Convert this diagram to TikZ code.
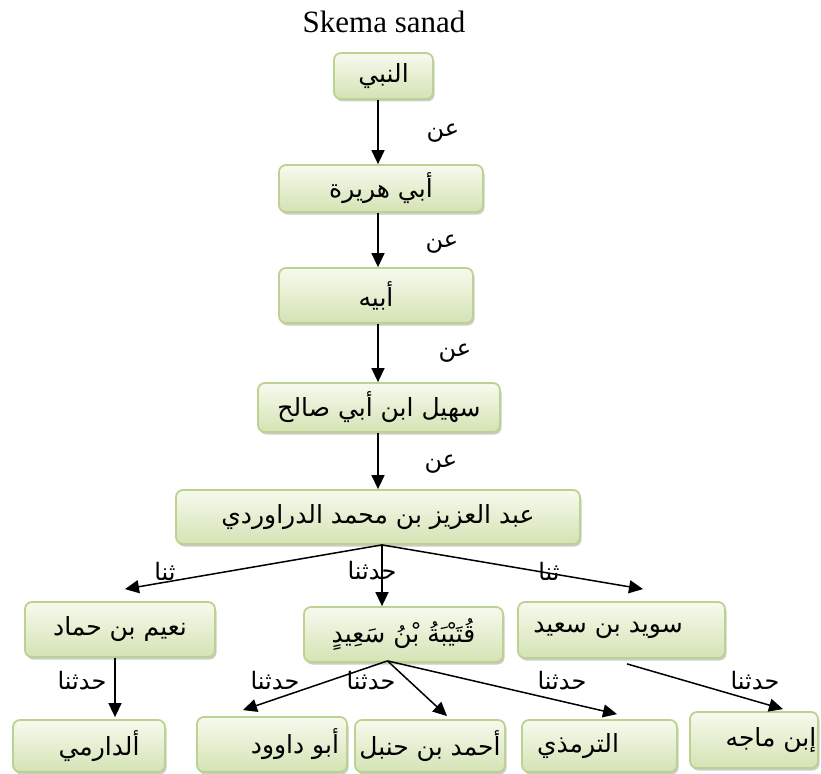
\documentclass[tikz,border=0pt]{standalone}
\usepackage{fontspec}
\setmainfont{Liberation Serif}
\newfontfamily\arabicfont[Script=Arabic]{DejaVu Sans}
\TeXXeTstate=1
\usetikzlibrary{arrows.meta,shadows}
\definecolor{boxline}{RGB}{188,210,145}
\definecolor{boxtop}{RGB}{247,250,238}
\definecolor{boxbottom}{RGB}{212,227,180}
\tikzset{
  isnad/.style={draw=boxline, line width=1.8pt, rounded corners=7pt,
    top color=boxtop, bottom color=boxbottom,
    drop shadow={shadow xshift=1.5pt, shadow yshift=-2.5pt, fill=black!40},
    inner sep=0pt, font=\arabicfont\fontsize{25}{30}\selectfont},
  tag/.style={inner sep=0pt, font=\arabicfont\fontsize{24}{28}\selectfont},
  link/.style={line width=1.5pt, -{Triangle[length=14pt,width=13pt]}},
}
\begin{document}
\begin{tikzpicture}[x=1pt,y=-1pt]
\useasboundingbox (0,0) rectangle (821,773);

% title
\node[font=\fontsize{31}{36}\selectfont, inner sep=0pt] (title) at (384,22) {Skema sanad};

% chain of narrators
\node[isnad, minimum width=99pt, minimum height=46pt] (nabi) at (383.5,76) {\beginR النبي\endR};
\node[isnad, minimum width=204pt, minimum height=47pt] (hurayra) at (381,188.5) {\beginR أبي هريرة\endR};
\node[isnad, minimum width=194pt, minimum height=55pt] (abihi) at (376,295.5) {\beginR أبيه\endR};
\node[isnad, minimum width=242pt, minimum height=49pt] (suhail) at (379,407.5) {\beginR سهيل ابن أبي صالح\endR};
\node[isnad, minimum width=404pt, minimum height=54pt] (aziz) at (378,517) {\beginR عبد العزيز بن محمد الدراوردي\endR};

% second generation (padding on one side sets a name off-centre)
\node[isnad, minimum width=190pt, minimum height=55pt] (nuaim) at (120,629.5) {\beginR نعيم بن حماد\endR};
\node[isnad, minimum width=199pt, minimum height=55pt] (qutaiba) at (403.5,634.5) {\beginR قُتَيْبَةُ بْنُ سَعِيدٍ\endR};
\node[isnad, minimum width=207pt, minimum height=56pt] (suwaid) at (621.5,630) {\beginR سويد بن سعيد\endR\hspace*{27pt}};

% collectors
\node[isnad, minimum width=152pt, minimum height=52pt] (darimi) at (89,746) {\hspace*{20pt}\beginR ألدارمي\endR};
\node[isnad, minimum width=150pt, minimum height=55pt] (dawud) at (272,744.5) {\hspace*{46pt}\beginR أبو داوود\endR};
\node[isnad, minimum width=150pt, minimum height=52pt] (ahmad) at (430,746) {\beginR أحمد بن حنبل\endR};
\node[isnad, minimum width=155pt, minimum height=52pt] (tirmidhi) at (599.5,746) {\beginR الترمذي\endR\hspace*{43pt}};
\node[isnad, minimum width=128pt, minimum height=56pt] (majah) at (754,740) {\hspace*{34pt}\beginR إبن ماجه\endR};

% transmission terms
\node[tag] (l1) at (443,133) {\beginR عن\endR};
\node[tag] (l2) at (442,244) {\beginR عن\endR};
\node[tag] (l3) at (455,353) {\beginR عن\endR};
\node[tag] (l4) at (441,464) {\beginR عن\endR};
\node[tag] (l5) at (165,571) {\beginR ثنا\endR};
\node[tag] (l6) at (372,571) {\beginR حدثنا\endR};
\node[tag] (l7) at (549,571) {\beginR ثنا\endR};
\node[tag] (l8) at (82,681) {\beginR حدثنا\endR};
\node[tag] (l9) at (275,681) {\beginR حدثنا\endR};
\node[tag] (l10) at (371,681) {\beginR حدثنا\endR};
\node[tag] (l11) at (562,681) {\beginR حدثنا\endR};
\node[tag] (l12) at (755,681) {\beginR حدثنا\endR};

% vertical chain
\draw[link] (nabi.south -| aziz.center) -- (hurayra.north -| aziz.center);
\draw[link] (hurayra.south -| aziz.center) -- (abihi.north -| aziz.center);
\draw[link] (abihi.south -| aziz.center) -- (suhail.north -| aziz.center);
\draw[link] (suhail.south -| aziz.center) -- (aziz.north);

% branches from al-Darawardi
\coordinate (fan1) at ([xshift=4pt]aziz.south);
\draw[link] (fan1) -- ([xshift=5pt,yshift=12pt]nuaim.north);
\draw[link] (fan1) -- (fan1 |- qutaiba.north);
\draw[link] (fan1) -- ([xshift=21.5pt,yshift=12pt]suwaid.north);

% branches from Qutaiba
\coordinate (fan2) at ([xshift=-16pt,yshift=2pt]qutaiba.south);
\draw[link] (fan2) -- ([xshift=-29pt,yshift=6pt]dawud.north);
\draw[link] (fan2) -- ([xshift=17pt,yshift=3pt]ahmad.north);
\draw[link] (fan2) -- ([xshift=17.5pt,yshift=5pt]tirmidhi.north);

% remaining links
\draw[link] ([xshift=-5pt]nuaim.south) -- ([xshift=-5pt,yshift=2pt]nuaim.south |- darimi.north);
\draw[link] ([xshift=5.5pt,yshift=-5pt]suwaid.south) -- ([xshift=29pt,yshift=2pt]majah.north);
\end{tikzpicture}
\end{document}
